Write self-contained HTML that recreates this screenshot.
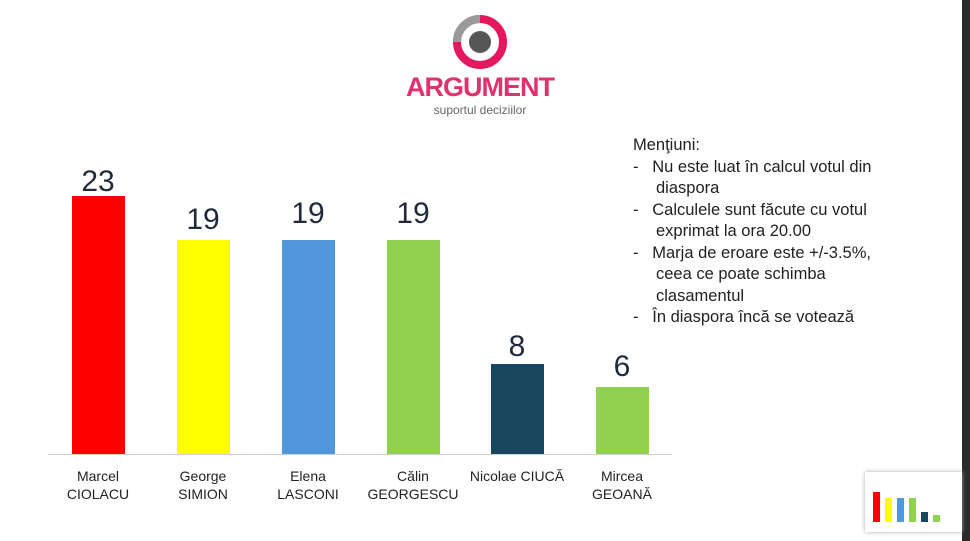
<!DOCTYPE html>
<html><head><meta charset="utf-8"><style>
body{margin:0;width:970px;height:541px;overflow:hidden;background:#fff;position:relative;font-family:"Liberation Sans",sans-serif}
.a{position:absolute}
.bar{position:absolute;width:53px;bottom:87px}
.num{position:absolute;width:100px;text-align:center;font-size:30px;color:#1f2a3c}
.lab{position:absolute;width:110px;text-align:center;font-size:14px;color:#222;line-height:18px;top:467px}
.n{font-size:16.5px;color:#222;line-height:21.5px}
</style></head><body>
<div class="a" style="left:962px;top:0;width:8px;height:541px;background:#2b2b2b"></div>
<svg class="a" style="left:450px;top:12px" width="60" height="60" viewBox="0 0 60 60">
<circle cx="30" cy="30" r="23" fill="none" stroke="#e5185f" stroke-width="8"/>
<path d="M7 30 A23 23 0 0 1 30 7" fill="none" stroke="#9a9a9a" stroke-width="8"/>
<circle cx="30" cy="30" r="11" fill="#555"/>
</svg>
<div class="a" style="left:400px;top:72px;width:160px;text-align:center;font-size:27px;font-weight:bold;color:#e0336e;letter-spacing:-1px">ARGUMENT</div>
<div class="a" style="left:400px;top:103px;width:160px;text-align:center;font-size:12px;color:#666">suportul deciziilor</div>
<div class="a" style="left:48px;top:454px;width:624px;height:1px;background:#d0d0d0"></div>
<div class="bar" style="left:72px;top:196px;background:#ff0000"></div>
<div class="bar" style="left:177px;top:240px;background:#ffff00"></div>
<div class="bar" style="left:282px;top:240px;background:#4f96dc"></div>
<div class="bar" style="left:387px;top:240px;background:#92d050"></div>
<div class="bar" style="left:491px;top:364px;background:#17465e"></div>
<div class="bar" style="left:596px;top:387px;background:#92d050"></div>
<div class="num" style="left:48px;top:165px">23</div>
<div class="num" style="left:153px;top:203px">19</div>
<div class="num" style="left:258px;top:197px">19</div>
<div class="num" style="left:363px;top:197px">19</div>
<div class="num" style="left:467px;top:330px">8</div>
<div class="num" style="left:572px;top:350px">6</div>
<div class="lab" style="left:43px">Marcel<br>CIOLACU</div>
<div class="lab" style="left:148px">George<br>SIMION</div>
<div class="lab" style="left:253px">Elena<br>LASCONI</div>
<div class="lab" style="left:358px">Călin<br>GEORGESCU</div>
<div class="lab" style="left:462px">Nicolae CIUCĂ</div>
<div class="lab" style="left:567px">Mircea<br>GEOANĂ</div>
<div class="a n" style="left:633px;top:135px;width:320px">Menţiuni:
<div>-&nbsp;&nbsp; Nu este luat în calcul votul din</div>
<div style="padding-left:23px">diaspora</div>
<div>-&nbsp;&nbsp; Calculele sunt făcute cu votul</div>
<div style="padding-left:23px">exprimat la ora 20.00</div>
<div>-&nbsp;&nbsp; Marja de eroare este +/-3.5%,</div>
<div style="padding-left:23px">ceea ce poate schimba</div>
<div style="padding-left:23px">clasamentul</div>
<div>-&nbsp;&nbsp; În diaspora încă se votează</div>
</div>
<div class="a" style="left:865px;top:472px;width:97px;height:60px;background:#fff;box-shadow:0 0 4px #aaa">
<div class="a" style="left:8px;top:20px;width:7px;height:30px;background:#f00"></div>
<div class="a" style="left:20px;top:26px;width:7px;height:24px;background:#ff0"></div>
<div class="a" style="left:32px;top:26px;width:7px;height:24px;background:#4f96dc"></div>
<div class="a" style="left:44px;top:26px;width:7px;height:24px;background:#92d050"></div>
<div class="a" style="left:56px;top:40px;width:7px;height:10px;background:#17465e"></div>
<div class="a" style="left:68px;top:43px;width:7px;height:7px;background:#92d050"></div>
</div>
</body></html>
